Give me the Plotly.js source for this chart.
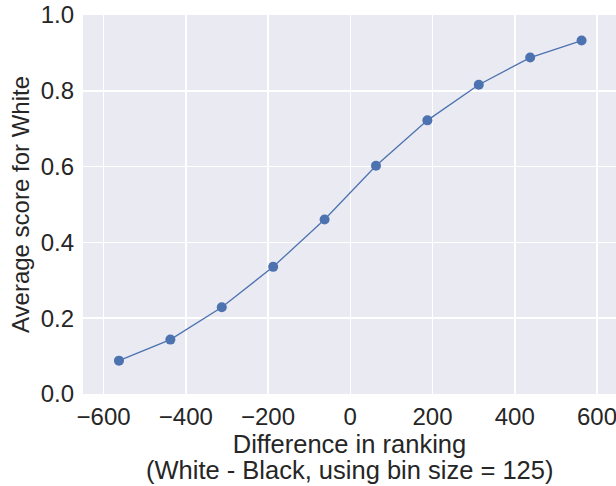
<!DOCTYPE html>
<html>
<head>
<meta charset="utf-8">
<script src="https://cdn.plot.ly/plotly-3.0.1.min.js"></script>
<style>html,body{margin:0;padding:0;background:#fff;}#chart{width:616px;height:486px;}</style>
</head>
<body>
<div id="chart"></div>
<script>
var rankingDiff = [-562.5, -437.5, -312.5, -187.5, -62.5, 62.5, 187.5, 312.5, 437.5, 562.5];
var avgScore = [0.088, 0.1435, 0.229, 0.3355, 0.4606, 0.6024, 0.722, 0.816, 0.8877, 0.9326];
var xTicks = [-600, -400, -200, 0, 200, 400, 600];
var yTicks = [0.0, 0.2, 0.4, 0.6, 0.8, 1.0];
var yTickText = ["0.0", "0.2", "0.4", "0.6", "0.8", "1.0"];
var xTitleLine1 = "Difference in ranking";
var xTitleLine2 = "(White - Black, using bin size = 125)";
var yTitle = "Average score for White";

var fam = "Liberation Sans, Arial, sans-serif";
var tickFont = {family: fam, size: 24, color: "#262626"};
var xTitleFont = {family: fam, size: 25.5, color: "#262626"};
var yTitleFont = {family: fam, size: 24, color: "#262626"};

Plotly.newPlot("chart", [{
  x: rankingDiff,
  y: avgScore,
  type: "scatter",
  mode: "lines+markers",
  line: {color: "#4c72b0", width: 1.3},
  marker: {color: "#4c72b0", size: 10}
}], {
  width: 616,
  height: 486,
  margin: {l: 83, r: 0, t: 15, b: 92, pad: 0},
  paper_bgcolor: "#ffffff",
  plot_bgcolor: "#eaeaf2",
  font: tickFont,
  showlegend: false,
  xaxis: {
    range: [-650, 646.2],
    tickvals: xTicks,
    showgrid: true,
    gridcolor: "#ffffff",
    gridwidth: 1.5,
    zeroline: false,
    showline: false,
    ticks: "",
    ticklabelstandoff: 6,
    ticklabeloverflow: "allow",
    tickfont: tickFont,
    title: {text: xTitleLine1, font: xTitleFont, standoff: 3}
  },
  yaxis: {
    range: [0, 1],
    tickvals: yTicks,
    ticktext: yTickText,
    showgrid: true,
    gridcolor: "#ffffff",
    gridwidth: 1.5,
    zeroline: false,
    showline: false,
    ticks: "",
    ticklabelstandoff: 8,
    tickfont: tickFont,
    title: {text: yTitle, font: yTitleFont, standoff: 4}
  },
  annotations: [{
    text: xTitleLine2,
    xref: "paper", yref: "paper",
    x: 0.5, y: 0, xanchor: "center", yanchor: "top",
    yshift: -61,
    borderpad: 0,
    showarrow: false,
    font: xTitleFont
  }]
}, {displayModeBar: false, staticPlot: true});
</script>
</body>
</html>
